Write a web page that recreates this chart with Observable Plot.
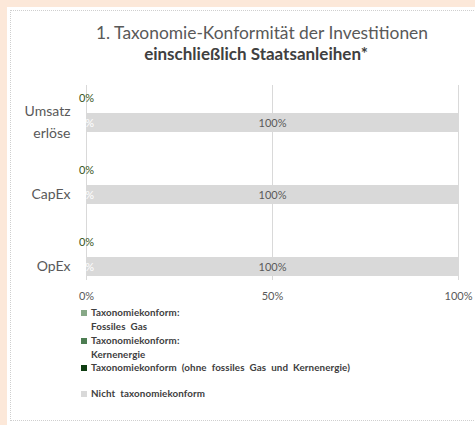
<!DOCTYPE html>
<html><head><meta charset="utf-8">
<script src="https://cdn.jsdelivr.net/npm/d3@7"></script>
<script src="https://cdn.jsdelivr.net/npm/@observablehq/plot@0.6"></script>
<style>
body{margin:0;width:475px;height:425px;overflow:hidden;background:#fce8d9;font-family:Lato,"Open Sans",sans-serif;position:relative}
#panel{position:absolute;left:7px;top:7px;width:480px;height:418px;background:#fff}
#border{position:absolute;left:10px;top:10px;width:480px;height:411px;border:1px dotted #cfcfcf;box-sizing:border-box}
.t{position:absolute;white-space:nowrap;color:#595959}
#chart{position:absolute;left:0;top:80px}
.lg{position:absolute;left:81px;font-size:9.8px;font-weight:bold;color:#404040;white-space:nowrap;line-height:14px;word-spacing:2.5px;letter-spacing:0.1px}
.sw{display:inline-block;width:6px;height:6px;margin-right:4px;vertical-align:0px}
</style></head>
<body>
<div id="panel"></div>
<div id="border"></div>
<div class="t" id="t1" style="top:22px;font-size:17.4px;">1. Taxonomie-Konformität der Investitionen</div>
<div class="t" id="t2" style="top:43px;font-size:17px;font-weight:bold;color:#404040">einschließlich Staatsanleihen*</div>
<div id="chart"></div>
<div id="legend"></div>
<script>
const categories = ["Umsatz\nerlöse", "CapEx", "OpEx"];
const seriesNames = [
  "Taxonomiekonform:\nFossiles Gas",
  "Taxonomiekonform:\nKernenergie",
  "Taxonomiekonform (ohne fossiles Gas und Kernenergie)",
  "Nicht taxonomiekonform"
];
const fossilGas = [0, 0, 0];
const nuclear = [0, 0, 0];
const aligned = [0, 0, 0];
const notAligned = [100, 100, 100];
const seriesValues = [fossilGas, nuclear, aligned, notAligned];
const seriesColors = ["#87a887", "#4d7d52", "#0f3d12", "#d9d9d9"];
const xTicks = [0, 0.5, 1];

// center title lines
function center(id, cx){ const el=document.getElementById(id); el.style.left=(cx - el.getBoundingClientRect().width/2)+"px"; }
center("t1", 262); center("t2", 256);

const data = [];
categories.forEach((c, i) => {
  let start = 0;
  seriesNames.forEach((s, j) => {
    const v = seriesValues[j][i];
    data.push({cat: c, series: s, idx: j, value: v / 100, mid: (start + v / 2) / 100});
    start += v;
  });
});
const fmt = d3.format(".0%");

const chart = Plot.plot({
  width: 475, height: 225,
  marginLeft: 86, marginRight: 17, marginTop: 5, marginBottom: 25,
  style: {fontFamily: "Lato, 'Open Sans', sans-serif", background: "transparent"},
  x: {domain: [0, 1]},
  y: {domain: categories, range: [5.25, 222.75], paddingInner: 0.738, paddingOuter: 0.369, axis: null},
  color: {domain: seriesNames, range: seriesColors},
  marks: [
    Plot.ruleX(xTicks, {stroke: "#d9d9d9", strokeWidth: 1}),
    Plot.barX(data, {x: "value", y: "cat", fill: "series"}),
    Plot.text(data.filter(d => d.idx === 3), {x: "mid", y: "cat", text: d => fmt(d.value), fill: "#595959", fontSize: 11}),
    Plot.text(data.filter(d => d.idx === 1), {x: "mid", y: "cat", text: d => fmt(d.value), fill: "#ffffff", fontSize: 11}),
    Plot.text(data.filter(d => d.idx === 2), {x: "mid", y: "cat", dy: -25, text: d => fmt(d.value), fill: "#375623", fontSize: 11}),
    Plot.text(categories, {x: () => 0, y: d => d, dx: -16, dy: -3, textAnchor: "end", lineHeight: 1.55, fontSize: 14, fill: "#595959"}),
    Plot.axisX({ticks: xTicks, tickFormat: fmt, tickSize: 0, tickPadding: 12, fontSize: 11, fill: "#595959", label: null})
  ]
});
document.getElementById("chart").appendChild(chart);

// legend
const lg = document.getElementById("legend");
const rows = [
  {i: 0, top: 305}, {i: 1, top: 333}, {i: 2, top: 359.5}, {i: 3, top: 385.5}
];
rows.forEach(r => {
  const lines = seriesNames[r.i].split("\n");
  const d = document.createElement("div");
  d.className = "lg";
  d.style.top = r.top + "px";
  d.innerHTML = `<span class="sw" style="background:${seriesColors[r.i]}"></span>${lines[0]}` +
    (lines[1] ? `<br><span style="padding-left:10px">${lines[1]}</span>` : "");
  lg.appendChild(d);
});
</script>
</body></html>
